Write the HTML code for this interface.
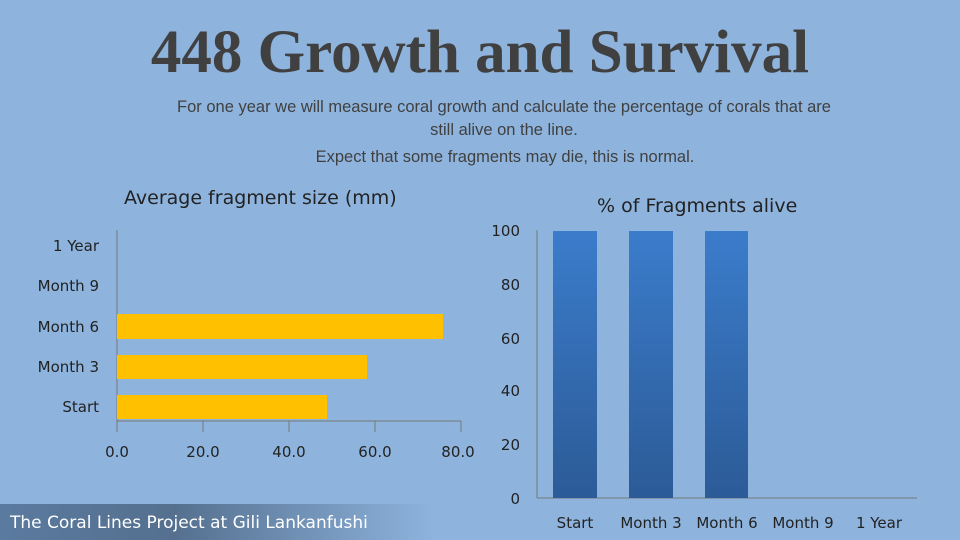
<!DOCTYPE html>
<html><head><meta charset="utf-8"><style>
body{margin:0;width:960px;height:540px;overflow:hidden;background:#8eb4de;font-family:"DejaVu Sans","Liberation Sans",sans-serif;color:#222;position:relative}
.a{position:absolute;white-space:nowrap}
</style></head><body>
<div class="a" style="left:0;width:960px;top:18px;text-align:center;font-family:'Liberation Serif',serif;font-weight:bold;font-size:61px;color:#404040">448 Growth and Survival</div>
<div class="a" style="left:0;width:1008px;top:96px;text-align:center;font-size:16.5px;color:#404040;font-family:'Liberation Sans',sans-serif;line-height:23px">For one year we will measure coral growth and calculate the percentage of corals that are<br>still alive on the line.</div>
<div class="a" style="left:0;width:1010px;top:148px;text-align:center;font-size:16.5px;color:#404040;font-family:'Liberation Sans',sans-serif">Expect that some fragments may die, this is normal.</div>
<div class="a" style="left:124px;top:187px;font-size:19px">Average fragment size (mm)</div>
<div class="a" style="left:597px;top:195px;font-size:19px">% of Fragments alive</div>
<svg class="a" style="left:0;top:0" width="960" height="540" font-family="DejaVu Sans,Liberation Sans,sans-serif" font-size="15" fill="#222">
<defs><linearGradient id="g" x1="0" y1="0" x2="0" y2="1"><stop offset="0" stop-color="#3b7ccb"/><stop offset="1" stop-color="#2c5b97"/></linearGradient>
<linearGradient id="f" x1="0" x2="1"><stop offset="0" stop-color="#5a7a9f"/><stop offset="0.4" stop-color="#55708f"/><stop offset="1" stop-color="#8eb4de"/></linearGradient></defs>
<line x1="117" y1="230" x2="117" y2="432" stroke="#777"/>
<line x1="117" y1="421" x2="461" y2="421" stroke="#777"/>
<g stroke="#777"><line x1="203" y1="421" x2="203" y2="432"/><line x1="289" y1="421" x2="289" y2="432"/><line x1="375" y1="421" x2="375" y2="432"/><line x1="461" y1="421" x2="461" y2="432"/></g>
<g fill="#ffc000"><rect x="117" y="395" width="210" height="24"/><rect x="117" y="355" width="250" height="24"/><rect x="117" y="314" width="326" height="25"/></g>
<g text-anchor="end"><text x="99" y="251">1 Year</text><text x="99" y="291">Month 9</text><text x="99" y="332">Month 6</text><text x="99" y="372">Month 3</text><text x="99" y="412">Start</text></g>
<g text-anchor="middle"><text x="117" y="457">0.0</text><text x="203" y="457">20.0</text><text x="289" y="457">40.0</text><text x="375" y="457">60.0</text><text x="458" y="457">80.0</text></g>
<line x1="537" y1="230" x2="537" y2="498" stroke="#777"/>
<line x1="537" y1="498" x2="917" y2="498" stroke="#777"/>
<g fill="url(#g)"><rect x="553" y="231" width="44" height="267"/><rect x="629" y="231" width="44" height="267"/><rect x="705" y="231" width="43" height="267"/></g>
<g text-anchor="end"><text x="520" y="236">100</text><text x="520" y="290">80</text><text x="520" y="344">60</text><text x="520" y="396">40</text><text x="520" y="450">20</text><text x="520" y="504">0</text></g>
<g text-anchor="middle"><text x="575" y="528">Start</text><text x="651" y="528">Month 3</text><text x="727" y="528">Month 6</text><text x="803" y="528">Month 9</text><text x="879" y="528">1 Year</text></g>
<rect x="0" y="504" width="436" height="36" fill="url(#f)"/>
<text x="10" y="528" fill="#fff" font-size="17">The Coral Lines Project at Gili Lankanfushi</text>
</svg>
</body></html>
